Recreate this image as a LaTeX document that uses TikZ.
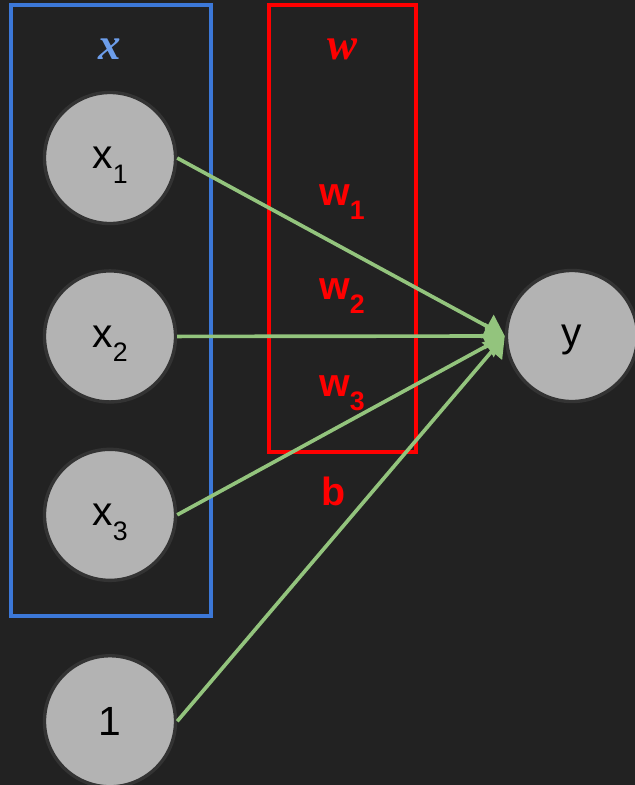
\documentclass[tikz,border=0pt]{standalone}
\usepackage{fontspec}
\setmainfont{Liberation Sans}
\newfontfamily\varfont{Liberation Serif}
\usepackage{xcolor}
\usepackage{tikz}
\usetikzlibrary{arrows.meta,positioning}

\definecolor{bgdark}{HTML}{222222}
\definecolor{inblue}{HTML}{3C78D8}
\definecolor{inlabel}{HTML}{6D9EEB}
\definecolor{unitgray}{HTML}{B3B3B3}
\definecolor{unitrim}{HTML}{333333}
\definecolor{linkgreen}{HTML}{93C47D}

% lowered index as in x1, w1
\newcommand{\lowidx}[1]{\smash{\raisebox{-0.36em}{\fontsize{19}{20}\selectfont #1}}}

\begin{document}
\begin{tikzpicture}[x=0.025cm, y=-0.025cm,
    neuron/.style={circle, draw=unitrim, fill=unitgray, line width=2.4pt, minimum size=3.275cm, inner sep=0pt, font=\fontsize{29}{32}\selectfont},
    weight/.style={anchor=base west, text=red, inner sep=0pt, font=\fontsize{28}{30}\selectfont\bfseries},
    varname/.style={anchor=base, inner sep=0pt, font=\fontsize{32}{34}\selectfont\varfont\bfseries\itshape},
    link/.style={-{Triangle[length=0.5cm, width=0.65cm]}, linkgreen, line width=2.6pt}]

    \fill[bgdark] (0,0) rectangle (635,785);
    \useasboundingbox (0,0) rectangle (635,785);

    % input and weight boxes
    \draw[inblue, line width=2.2pt] (11,5) rectangle (211,616);
    \draw[red, line width=2.2pt] (269,5) rectangle (416,452);
    \node[varname, text=inlabel] (xlab) at (110,59) {x};
    \node[varname, text=red] (wlab) at (343,59) {w};

    % units
    \node[neuron] (x1) at (110,158) {x\lowidx{1}};
    \node[neuron, below=1.1cm of x1] (x2) {x\lowidx{2}};
    \node[neuron, below=1.1cm of x2] (x3) {x\lowidx{3}};
    \node[neuron, below=1.8cm of x3] (one) {1};
    \node[neuron, text depth=0pt] (y) at (572,336) {y};

    % weights and bias
    \node[weight] (w1) at (319,205) {w{\lowidx{1}}};
    \node[weight] (w2) at (319,299) {w{\lowidx{2}}};
    \node[weight] (w3) at (319,396) {w{\lowidx{3}}};
    \node[weight] (b) at (321,505) {b};

    \draw[link] (x1.east) -- (y.west);
    \draw[link] (x2.east) -- (y.west);
    \draw[link] (x3.east) -- (y.west);
    \draw[link] (one.east) -- (y.west);
\end{tikzpicture}
\end{document}
